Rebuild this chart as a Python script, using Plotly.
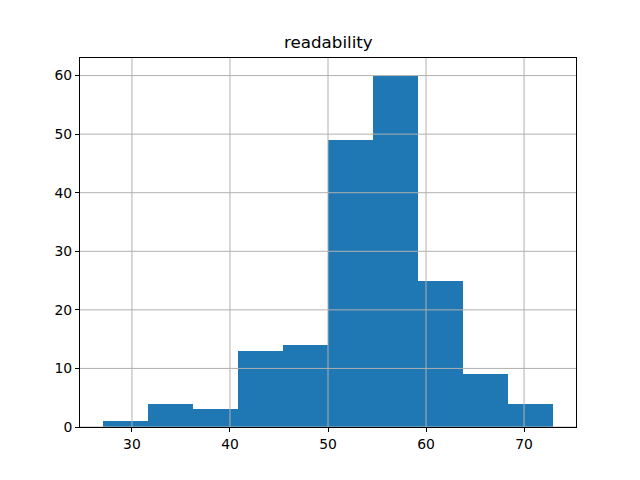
import plotly.graph_objects as go

bin_edges = [27.0, 31.6, 36.2, 40.8, 45.4, 50.0, 54.6, 59.2, 63.8, 68.4, 73.0]
counts = [1, 4, 3, 13, 14, 49, 60, 25, 9, 4]
x_ticks = [30, 40, 50, 60, 70]
y_ticks = [0, 10, 20, 30, 40, 50, 60]
title_text = "readability"

centers = [(a + b) / 2 for a, b in zip(bin_edges[:-1], bin_edges[1:])]
widths = [b - a for a, b in zip(bin_edges[:-1], bin_edges[1:])]

span = bin_edges[-1] - bin_edges[0]
xr = [bin_edges[0] - 0.05 * span, bin_edges[-1] + 0.05 * span]
yr = [0, max(counts) * 1.05]

fig = go.Figure(go.Bar(x=centers, y=counts, width=widths,
                       marker=dict(color="#1f77b4", line=dict(width=0))))

shapes = []
for t in x_ticks:
    shapes.append(dict(type="line", xref="x", yref="paper", x0=t, x1=t, y0=0, y1=1,
                       line=dict(color="#b0b0b0", width=1), layer="above"))
for t in y_ticks:
    shapes.append(dict(type="line", xref="paper", yref="y", x0=0, x1=1, y0=t, y1=t,
                       line=dict(color="#b0b0b0", width=1), layer="above"))

font = "DejaVu Sans"
fig.update_layout(
    width=640, height=480,
    margin=dict(l=80, r=64, t=58, b=53, pad=0),
    paper_bgcolor="white", plot_bgcolor="white",
    showlegend=False, bargap=0,
    shapes=shapes,
    font=dict(family=font, size=13.9, color="black"),
    annotations=[dict(text=title_text, xref="paper", yref="paper", x=0.5, y=1,
                      xanchor="center", yanchor="bottom", yshift=4, showarrow=False,
                      font=dict(family=font, size=16.7, color="black"))],
)
fig.update_xaxes(range=xr, tickvals=x_ticks, showgrid=False, zeroline=False,
                 showline=True, mirror=True, linecolor="black", linewidth=1,
                 ticks="outside", ticklen=4, tickcolor="black", tickwidth=1)
fig.update_yaxes(range=yr, tickvals=y_ticks, showgrid=False, zeroline=False,
                 showline=True, mirror=True, linecolor="black", linewidth=1,
                 ticks="outside", ticklen=4, tickcolor="black", tickwidth=1)

fig.write_html("out.html")
